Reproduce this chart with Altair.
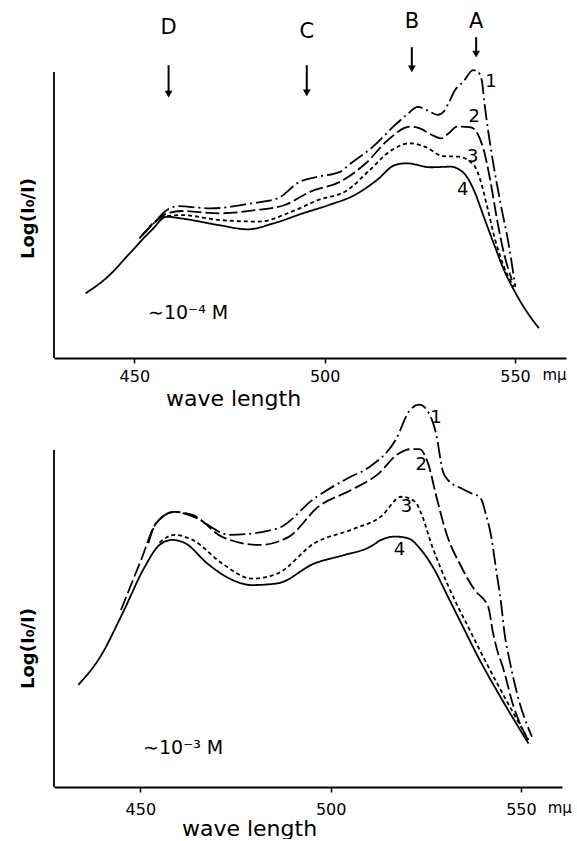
import altair as alt
import pandas as pd

FONT = "DejaVu Sans"

# ---------------- Top panel (~1e-4 M) ----------------
t1_nm = [451.3, 455.0, 458.5, 461.4, 470.1, 480.8, 487.6, 493.4, 498.2, 504.0, 506.9, 512.7, 518.5, 521.5,
         524.5, 526.8, 529.7, 531.3, 532.5, 534.3, 536.4, 539.0, 540.3, 541.3, 541.9, 543.0, 544.0, 546.2, 548.3, 550.1]
t1_v = [41.8, 47.0, 51.7, 53.1, 52.3, 54.1, 55.8, 61.6, 63.4, 65.1, 68.1, 73.9, 81.5, 85.0,
        87.8, 86.7, 85.0, 86.2, 89.0, 93.8, 96.6, 100.7, 100.0, 97.0, 90.0, 79.0, 70.4, 54.1, 40.1, 24.9]

t2_nm = [452.0, 455.5, 458.5, 462.4, 472.1, 481.8, 489.5, 496.3, 504.0, 510.8, 516.6, 522.4, 525.0, 528.2,
         530.5, 532.5, 534.8, 538.3, 540.1, 541.8, 543.5, 545.3, 547.1, 549.2]
t2_v = [43.0, 47.5, 50.5, 51.4, 50.6, 51.7, 53.5, 58.2, 61.6, 68.1, 76.2, 80.9, 80.3, 78.0,
        76.8, 78.5, 80.9, 80.7, 78.6, 72.7, 62.2, 48.3, 36.6, 27.3]

t3_nm = [454.0, 457.6, 462.4, 472.1, 482.7, 491.4, 498.2, 506.0, 511.8, 517.6, 522.4, 526.3, 531.1, 535.2,
         539.2, 540.9, 542.7, 544.8, 547.1, 549.7]
t3_v = [46.0, 49.4, 50.0, 48.3, 47.7, 51.2, 55.2, 58.7, 65.7, 72.7, 75.1, 73.9, 70.6, 70.4,
        67.5, 62.2, 52.9, 41.3, 31.9, 24.9]

t4_nm = [437.2, 443.0, 448.8, 454.6, 458.5, 462.4, 472.1, 479.8, 486.6, 494.3, 501.1, 507.9, 513.7, 518.5,
         521.5, 527.8, 533.0, 536.6, 539.2, 541.8, 544.4, 547.1, 549.7, 553.4, 556.3]
t4_v = [22.6, 28.4, 36.6, 44.8, 49.4, 48.8, 46.5, 45.0, 47.1, 50.6, 53.5, 57.0, 62.2, 67.5,
        68.1, 66.7, 66.9, 64.6, 58.7, 49.4, 40.1, 30.8, 23.8, 15.6, 10.4]

# ---------------- Bottom panel (~1e-3 M) ----------------
b1_nm = [452.1, 454.1, 458.9, 463.7, 473.5, 486.0, 495.7, 504.5, 510.3, 517.1, 520.9, 523.3, 525.8, 527.7,
         529.5, 530.8, 534.3, 537.0, 539.1, 540.0, 540.6, 542.2, 543.5, 544.8, 545.7, 547.0, 549.0, 552.9]
b1_v = [72.3, 78.2, 81.6, 80.3, 74.8, 76.7, 85.6, 91.6, 95.0, 103.0, 111.9, 113.4, 110.9, 104.9,
        93.6, 91.1, 88.6, 87.1, 86.1, 84.2, 81.7, 74.3, 64.4, 54.5, 45.6, 37.7, 27.7, 14.9]

b2_nm = [444.9, 450.2, 454.1, 458.9, 463.7, 471.5, 481.2, 489.0, 496.7, 505.4, 512.2, 518.0, 520.9, 523.3,
         525.6, 527.8, 530.4, 534.3, 537.8, 541.4, 542.7, 544.0, 545.0, 548.1, 552.4]
b2_v = [52.5, 67.4, 78.2, 81.6, 80.7, 74.2, 71.8, 74.2, 83.1, 88.1, 92.6, 99.0, 100.2, 100.2,
        96.0, 86.1, 75.3, 65.4, 58.5, 53.5, 45.6, 39.7, 36.5, 23.8, 12.9]

b3_nm = [455.0, 458.9, 463.7, 471.5, 479.3, 486.0, 495.7, 505.4, 513.2, 518.6, 522.1, 523.8, 526.4, 529.1,
         532.6, 536.1, 539.6, 547.1, 552.0]
b3_v = [72.5, 74.8, 73.3, 66.3, 61.8, 63.3, 72.3, 76.3, 80.2, 86.1, 84.7, 81.2, 72.3, 64.4,
        55.5, 47.6, 39.7, 23.8, 13.9]

b4_nm = [433.7, 439.5, 445.3, 451.2, 455.0, 458.4, 461.8, 467.6, 473.5, 479.3, 486.0, 495.7, 503.5, 510.3,
         513.3, 516.8, 520.3, 523.8, 527.3, 530.8, 534.3, 538.7, 545.1, 552.0]
b4_v = [30.3, 38.7, 51.5, 65.4, 71.8, 73.3, 72.3, 66.3, 61.8, 59.9, 60.4, 66.3, 68.8, 71.2,
        73.3, 74.3, 73.8, 70.3, 64.4, 56.5, 48.6, 38.7, 25.8, 12.9]

# ---------------- Annotations ----------------
curve_names = ["1", "2", "3", "4"]
top_label_nm = [543.7, 539.3, 538.9, 536.3]
top_label_v = [96.6, 84.4, 70.4, 58.7]
bot_label_nm = [527.7, 523.8, 519.9, 518.1]
bot_label_v = [109.4, 95.5, 83.2, 70.3]

band_letters = ["D", "C", "B", "A"]
band_nm = [459.0, 495.3, 522.9, 539.8]
band_letter_v = [115.3, 114.1, 117.6, 117.6]
arrow_top_v = [102.4, 102.4, 108.7, 112.2]
arrow_tip_v = [90.9, 91.3, 99.7, 104.9]

tick_values = [450, 500, 550]
axis_extent = [0, 100]

DASH = {"1": [16, 4, 2, 4], "2": [14, 4], "3": [4, 3], "4": [1, 0]}


def panel(series, xdom, ydom, width, height, lab_nm, lab_v, conc_text, conc_nm, conc_v,
          unit_nm, unit_v, xt_x, xt_y, yt_x, yt_y, label_pad, extra=None):
    x = alt.X("nm:Q", scale=alt.Scale(domain=xdom, nice=False, zero=False),
              axis=alt.Axis(values=tick_values, title="wave length", grid=False,
                            labelFont=FONT, labelFontSize=16, labelColor="black",
                            labelPadding=label_pad, tickSize=5, tickColor="black",
                            domainColor="black", domainWidth=1.8, tickWidth=1.5,
                            titleFont=FONT, titleFontSize=22, titleFontWeight="normal",
                            titleColor="black", titleX=xt_x, titleY=xt_y,
                            titleAlign="center", titleBaseline="middle"))
    y = alt.Y("val:Q", scale=alt.Scale(domain=ydom, nice=False, zero=False),
              axis=alt.Axis(title="Log(I₀/I)", labels=False, ticks=False, domain=False, grid=False,
                            titleFont=FONT, titleFontSize=18, titleFontWeight="bold",
                            titleColor="black", titleAngle=270, titleX=yt_x, titleY=yt_y,
                            titleAlign="center", titleBaseline="middle"))
    layers = []
    # y axis line only over the drawn range
    ax = pd.DataFrame({"nm": [xdom[0]], "val": [axis_extent[0]], "val2": [axis_extent[1]]})
    layers.append(alt.Chart(ax).mark_rule(color="black", strokeWidth=1.8).encode(
        x=x, y=y, y2="val2:Q"))
    for name, xs, ys in series:
        df = pd.DataFrame({"nm": xs, "val": ys})
        layers.append(alt.Chart(df).mark_line(
            color="black", strokeWidth=1.8, interpolate="monotone", strokeDash=DASH[name]
        ).encode(x=x, y=y))
    lab = pd.DataFrame({"nm": lab_nm, "val": lab_v, "t": curve_names})
    layers.append(alt.Chart(lab).mark_text(font=FONT, fontSize=18, color="black").encode(
        x=x, y=y, text="t:N"))
    conc = pd.DataFrame({"nm": [conc_nm], "val": [conc_v], "t": [conc_text]})
    layers.append(alt.Chart(conc).mark_text(font=FONT, fontSize=19, color="black", align="left").encode(
        x=x, y=y, text="t:N"))
    unit = pd.DataFrame({"nm": [unit_nm], "val": [unit_v], "t": ["mμ"]})
    layers.append(alt.Chart(unit).mark_text(font=FONT, fontSize=15, color="black").encode(
        x=x, y=y, text="t:N"))
    if extra is not None:
        layers.extend(extra(x, y))
    return alt.layer(*layers).properties(width=width, height=height)


def arrows(x, y):
    df = pd.DataFrame({"nm": band_nm, "val": arrow_top_v, "val2": [v + 2.0 for v in arrow_tip_v],
                       "tip": [v + 1.4 for v in arrow_tip_v], "t": band_letters,
                       "lv": band_letter_v})
    base = alt.Chart(df)
    return [
        base.mark_rule(color="black", strokeWidth=2).encode(x=x, y=y, y2="val2:Q"),
        base.mark_point(shape="triangle-down", filled=True, color="black", size=60, opacity=1).encode(
            x=x, y=alt.Y("tip:Q")),
        base.mark_text(font=FONT, fontSize=21, color="black").encode(x=x, y=alt.Y("lv:Q"), text="t:N"),
    ]


top = panel(
    [("1", t1_nm, t1_v), ("2", t2_nm, t2_v), ("3", t3_nm, t3_v), ("4", t4_nm, t4_v)],
    xdom=[428.9, 563.4], ydom=[0, 121.7], width=512, height=348,
    lab_nm=top_label_nm, lab_v=top_label_v,
    conc_text="∼10⁻⁴ M", conc_nm=453.6, conc_v=15.6,
    unit_nm=560.4, unit_v=-5.9, xt_x=179, xt_y=40, yt_x=-25.5, yt_y=208, label_pad=5,
    extra=arrows)

bottom = panel(
    [("1", b1_nm, b1_v), ("2", b2_nm, b2_v), ("3", b3_nm, b3_v), ("4", b4_nm, b4_v)],
    xdom=[427.3, 560.8], ydom=[0, 114.8], width=508, height=387,
    lab_nm=bot_label_nm, lab_v=bot_label_v,
    conc_text="∼10⁻³ M", conc_nm=450.7, conc_v=11.6,
    unit_nm=560.2, unit_v=-6.2, xt_x=195, xt_y=41, yt_x=-26, yt_y=248, label_pad=9)

chart = alt.vconcat(top, bottom, spacing=42, bounds="flush").properties(
    padding={"left": 19, "top": 10, "right": 0, "bottom": 0},
    background="white",
).configure_view(stroke=None)

chart.save("out.html", embed_options={"renderer": "svg", "actions": False})
